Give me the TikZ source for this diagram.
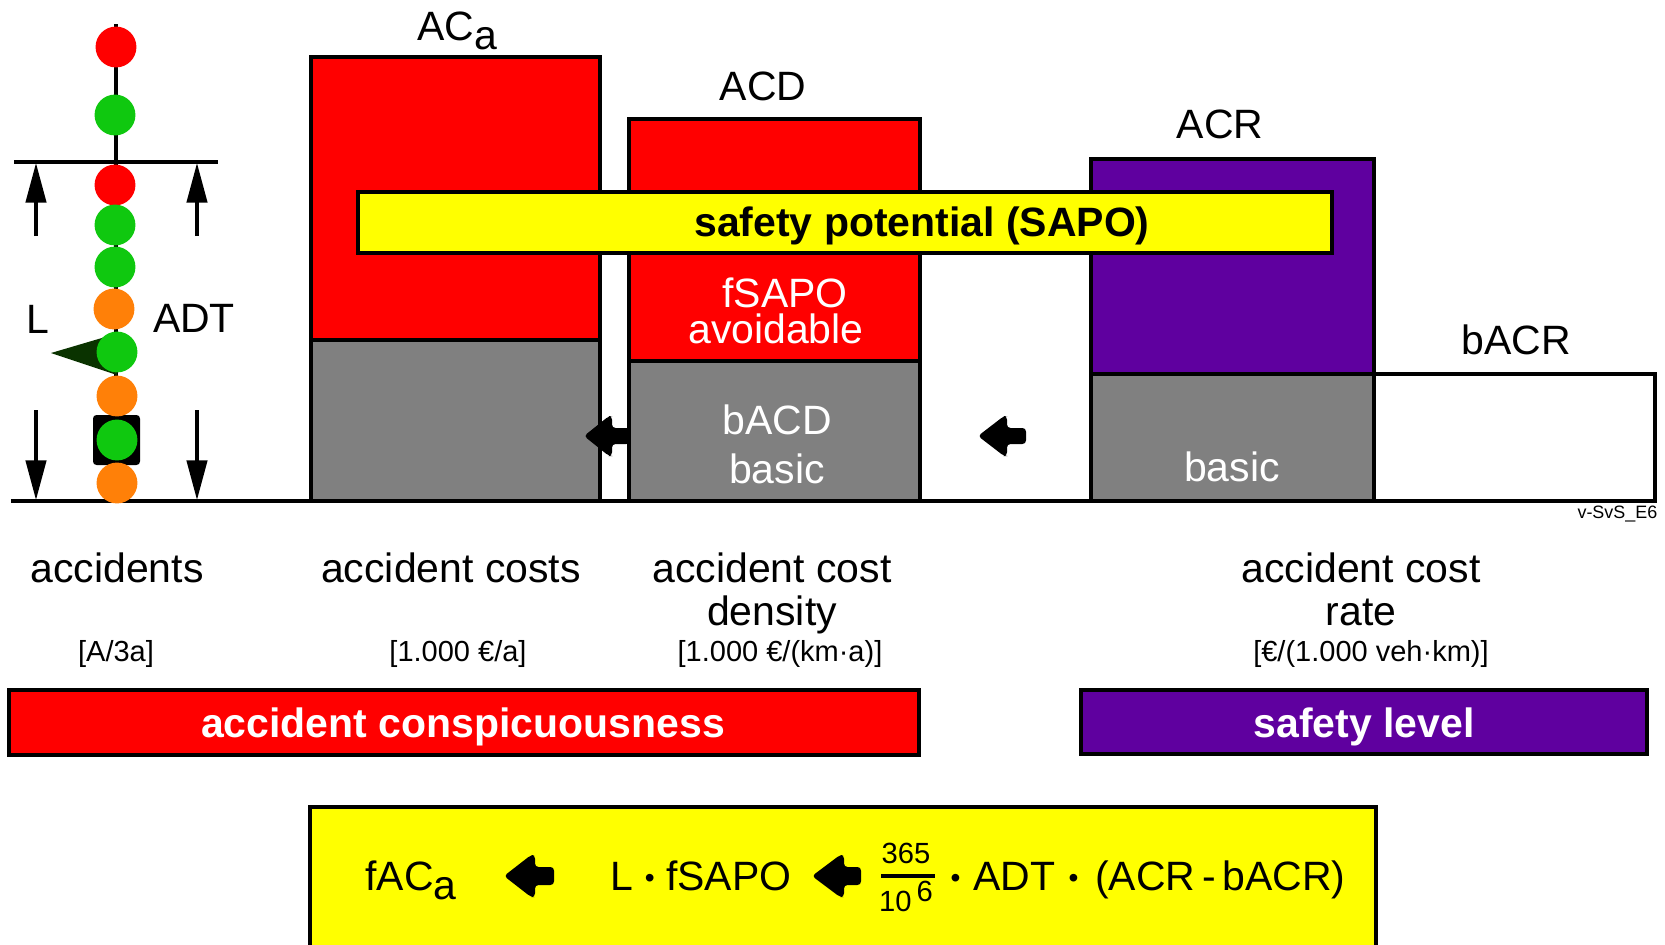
\documentclass[tikz,border=0pt]{standalone}
\usepackage{fontspec}
\setmainfont{Liberation Sans}
\usepackage{tikz}
\usetikzlibrary{arrows.meta}

\definecolor{ballred}{HTML}{FF0000}
\definecolor{ballgreen}{HTML}{0FC80F}
\definecolor{ballorange}{HTML}{FF8008}
\definecolor{bargrey}{HTML}{808080}
\definecolor{barpurple}{HTML}{5F009F}
\definecolor{baryellow}{HTML}{FFFF00}
\definecolor{wedgegreen}{HTML}{0A3300}

\newcommand{\fdot}{\raisebox{0.6pt}{\fontsize{8}{8}\selectfont •}}

\tikzset{
  ball/.style={circle,minimum size=41*0.2835pt,fill=#1},
  big/.style={font=\fontsize{11.65}{12}\selectfont,anchor=base},
  small/.style={font=\fontsize{8.25}{9}\selectfont,anchor=base},
  heavy/.style={font=\bfseries\fontsize{11.65}{12}\selectfont,anchor=base},
  frac/.style={font=\fontsize{8.3}{9}\selectfont,anchor=base},
  bar/.style={draw=black,line width=0.95pt},
  measure/.style={line width=0.95pt,-{Triangle[length=11.3pt,width=5.8pt]}}
}

\begin{document}
\begin{tikzpicture}[x=0.01cm,y=-0.01cm]
            \tikzstyle{every node}+=[inner sep=0pt]
            \useasboundingbox (0,0) rectangle (1665,945);
            % bars
            \draw [bar,fill=ballred] (311,57) rectangle (600,340);
            \draw [bar,fill=bargrey] (311,340) rectangle (600,501);
            \draw [bar,fill=ballred] (629,119) rectangle (920,361);
            \draw [bar,fill=bargrey] (629,361) rectangle (920,501);
            \draw [bar,fill=barpurple] (1091,159) rectangle (1374,374);
            \draw [bar,fill=bargrey] (1091,374) rectangle (1374,501);
            \draw [bar,fill=white] (1374,374) rectangle (1655,501);
            \draw [bar,fill=baryellow] (358,192) rectangle (1332,253);
            \draw [bar,fill=ballred] (9,690) rectangle (919,755);
            \draw [bar,fill=barpurple] (1081,690) rectangle (1647,754);
            \draw [bar,fill=baryellow] (310,807) rectangle (1376,955);
            % ground and section lines
            \coordinate (groundl) at (11,501);
            \coordinate (groundr) at (1655,501);
            \coordinate (sectl) at (14,162);
            \coordinate (sectr) at (218,162);
            \coordinate (roadtop) at (116,24);
            \coordinate (roadbot) at (116,501);
            \draw [line width=0.95pt] (groundl) -- (groundr);
            \draw [line width=0.95pt] (sectl) -- (sectr);
            \draw [line width=0.95pt] (roadtop) -- (roadbot);
            % section length arrows
            \coordinate (upla) at (36,236);
            \coordinate (uplb) at (36,163);
            \coordinate (upra) at (197,236);
            \coordinate (uprb) at (197,163);
            \coordinate (dnla) at (36,410);
            \coordinate (dnlb) at (36,500);
            \coordinate (dnra) at (197,410);
            \coordinate (dnrb) at (197,500);
            \draw [measure] (upla) -- (uplb);
            \draw [measure] (upra) -- (uprb);
            \draw [measure] (dnla) -- (dnlb);
            \draw [measure] (dnra) -- (dnrb);
            % accidents along the road
            \fill [black,rounded corners=1] (93,415) rectangle (140,465);
            \fill [wedgegreen] (51,353) -- (112,335) -- (117,375) -- cycle;
            \node [ball=ballred] (acca) at (116,47) {};
            \node [ball=ballgreen] (accb) at (115,115) {};
            \node [ball=ballred] (accc) at (115,185) {};
            \node [ball=ballgreen] (accd) at (115,225) {};
            \node [ball=ballgreen] (acce) at (115,267) {};
            \node [ball=ballorange] (accf) at (114,309) {};
            \node [ball=ballgreen] (accg) at (117,352) {};
            \node [ball=ballorange] (acch) at (117,396) {};
            \node [ball=ballgreen] (acci) at (117,440) {};
            \node [ball=ballorange] (accj) at (117,483) {};
            % block arrows
            \fill [black,rounded corners=1] (584,436) -- (609,416) -- (612,416) -- (612,428) -- (630,428) -- (630,444) -- (612,444) -- (612,456) -- (609,456) -- cycle;
            \fill [black,rounded corners=1] (978,436) -- (1004,416) -- (1007,416) -- (1007,428) -- (1026,428) -- (1026,444) -- (1007,444) -- (1007,456) -- (1004,456) -- cycle;
            \fill [black,rounded corners=1] (504,876) -- (531,855) -- (535,855) -- (535,867) -- (554,867) -- (554,885) -- (535,885) -- (535,897) -- (531,897) -- cycle;
            \fill [black,rounded corners=1] (812,876) -- (840,855) -- (844,855) -- (844,867) -- (861,867) -- (861,885) -- (844,885) -- (844,897) -- (840,897) -- cycle;
            % labels at the bars
            \node [big] (labl) at (38,333) {L};
            \node [big] (labadt) at (194,332) {ADT};
            \node [big] (labac) at (457,40) {AC\raisebox{-2.6pt}{a}};
            \node [big] (labacd) at (763,100) {ACD};
            \node [big] (labacr) at (1220,138) {ACR};
            \node [big] (labbacr) at (1516,354) {bACR};
            \node [heavy] (labsapo) at (922,236) {safety potential (SAPO)};
            \node [big,white] (labfsapo) at (785,307) {fSAPO};
            \node [big,white] (labavoid) at (776,343) {avoidable};
            \node [big,white] (labbacd) at (777,434) {bACD};
            \node [big,white] (labbasica) at (777,483) {basic};
            \node [big,white] (labbasicb) at (1232,481) {basic};
            \node [font=\fontsize{5.1}{6}\selectfont,anchor=base east] (labcode) at (1658,518) {v-SvS\_E6};
            % captions
            \node [big] (capacc) at (117,582) {accidents};
            \node [big] (capcost) at (451,582) {accident costs};
            \node [big] (capdensa) at (772,582) {accident cost};
            \node [big] (capdensb) at (772,625) {density};
            \node [big] (capratea) at (1361,582) {accident cost};
            \node [big] (caprateb) at (1361,625) {rate};
            \node [small] (unitacc) at (116,661) {[A/3a]};
            \node [small] (unitcost) at (458,661) {[1.000 €/a]};
            \node [small] (unitdens) at (780,661) {[1.000 €/(km·a)]};
            \node [small] (unitrate) at (1371,661) {[€/(1.000 veh·km)]};
            \node [heavy,white] (labconsp) at (463,737) {accident conspicuousness};
            \node [heavy,white] (lablevel) at (1364,737) {safety level};
            % formula
            \node [big] (forma) at (411,890) {fAC\raisebox{-2.6pt}{a}};
            \node [big] (formb) at (701,890) {L \fdot{} fSAPO};
            \node [frac] (fracn) at (906,863) {365};
            \node [frac] (fracd) at (906,911) {10\,\raisebox{2.6pt}{6}};
            \coordinate (fracl) at (881,876);
            \coordinate (fracr) at (935,876);
            \draw [line width=0.95pt] (fracl) -- (fracr);
            \node [big] (formc) at (1148,890) {\fdot{}\kern0.5pt{} ADT\kern0.5pt{} \fdot{}\kern1.5pt{} (ACR\,-\,bACR)};
\end{tikzpicture}
\end{document}
